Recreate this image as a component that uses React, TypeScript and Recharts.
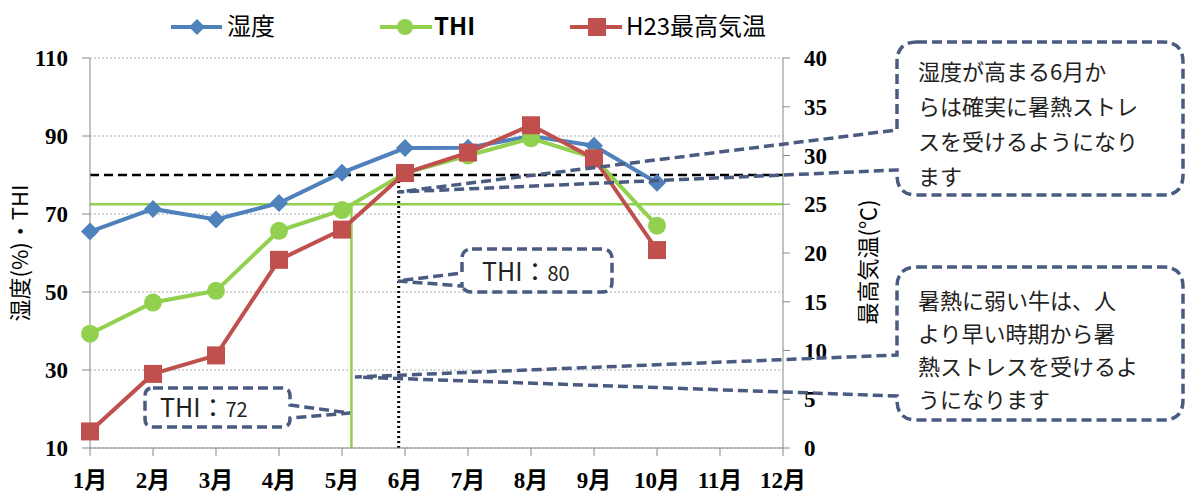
import { LineChart, Line, XAxis, YAxis, CartesianGrid, ReferenceLine } from 'recharts';

// values
const months = [1, 2, 3, 4, 5, 6, 7, 8, 9, 10, 11, 12];
const monthLabels = ['1月', '2月', '3月', '4月', '5月', '6月', '7月', '8月', '9月', '10月', '11月', '12月'];
const humidity = [65.5, 71.3, 68.6, 72.8, 80.6, 86.9, 87, 90, 87.5, 78, null, null];
const thi = [39.3, 47.3, 50.3, 65.7, 71, 80.5, 85, 89.4, 84.4, 67, null, null];
const maxTemp = [1.7, 7.6, 9.5, 19.3, 22.4, 28.2, 30.3, 33.1, 29.7, 20.3, null, null];
const leftTicks = [10, 30, 50, 70, 90, 110];
const rightTicks = [0, 5, 10, 15, 20, 25, 30, 35, 40];
const thiLow = 72.5;
const thiHigh = 80;
const crossMonths = [5.15, 5.9];

const data = months.map((m, i) => ({ month: m, humidity: humidity[i], thi: thi[i], temp: maxTemp[i] }));

const BLUE = '#4f81bd';
const GREEN = '#92d050';
const RED = '#c0504d';
const BOX = '#4a5b82';

const tickFont = { fontFamily: '"Liberation Serif", "Noto Sans CJK JP", serif', fontWeight: 'bold', fontSize: 23, fill: '#000' };
const jpFont = '"Noto Sans CJK JP", sans-serif';

const Diamond = (props: any) => {
  const { cx, cy } = props;
  if (cx == null || cy == null || props.value == null) return <g key={props.key} />;
  return <path key={props.key} d={`M${cx},${cy - 9} L${cx + 9},${cy} L${cx},${cy + 9} L${cx - 9},${cy} Z`} fill={BLUE} />;
};
const Circle = (props: any) => {
  const { cx, cy } = props;
  if (cx == null || cy == null || props.value == null) return <g key={props.key} />;
  return <circle key={props.key} cx={cx} cy={cy} r={9} fill={GREEN} />;
};
const Square = (props: any) => {
  const { cx, cy } = props;
  if (cx == null || cy == null || props.value == null) return <g key={props.key} />;
  return <rect key={props.key} x={cx - 9} y={cy - 9} width={18} height={18} fill={RED} />;
};

// rounded callout box with a thin pointer
function calloutPath(x: number, y: number, w: number, h: number, r: number, side: string, a: number, b: number, tx: number, ty: number) {
  if (side === 'left') {
    return `M${x + r},${y} H${x + w - r} Q${x + w},${y} ${x + w},${y + r} V${y + h - r} Q${x + w},${y + h} ${x + w - r},${y + h} H${x + r} Q${x},${y + h} ${x},${y + h - r} V${b} L${tx},${ty} L${x},${a} V${y + r} Q${x},${y} ${x + r},${y} Z`;
  }
  return `M${x + r},${y} H${x + w - r} Q${x + w},${y} ${x + w},${y + r} V${a} L${tx},${ty} L${x + w},${b} V${y + h - r} Q${x + w},${y + h} ${x + w - r},${y + h} H${x + r} Q${x},${y + h} ${x},${y + h - r} V${y + r} Q${x},${y} ${x + r},${y} Z`;
}

const callouts = [
  { x: 897, y: 42, w: 286, h: 153, r: 20, side: 'left', a: 130, b: 170, tx: 398, ty: 192 },
  { x: 897, y: 267, w: 286, h: 153, r: 20, side: 'left', a: 355, b: 396, tx: 355, ty: 377 },
  { x: 145, y: 388, w: 145, h: 39, r: 8, side: 'right', a: 405, b: 418, tx: 350, ty: 413 },
  { x: 462, y: 249, w: 150, h: 43, r: 10, side: 'left', a: 273, b: 286, tx: 398, ty: 281 },
];

const note1 = ['湿度が高まる6月か', 'らは確実に暑熱ストレ', 'スを受けるようになり', 'ます'];
const note2 = ['暑熱に弱い牛は、人', 'より早い時期から暑', '熱ストレスを受けるよ', 'うになります'];

export default function App() {
  return (
    <div style={{ position: 'absolute', left: 0, top: 0, width: 1186, height: 497, background: '#fff' }}>
      <LineChart width={1186} height={497} data={data} margin={{ top: 58, right: 0, bottom: 0, left: 0 }}>
        <CartesianGrid yAxisId="left" horizontal vertical={false} stroke="#aaa" strokeDasharray="2 2" />
        <XAxis
          dataKey="month"
          type="number"
          domain={[1, 12]}
          ticks={months}
          tickFormatter={(v: number) => monthLabels[v - 1]}
          height={49}
          stroke="#888"
          tickSize={8}
          tickMargin={16}
          tick={tickFont}
        />
        <YAxis
          yAxisId="left"
          domain={[10, 110]}
          ticks={leftTicks}
          width={90}
          stroke="#888"
          tickSize={8}
          tickMargin={14}
          tick={tickFont}
        />
        <YAxis
          yAxisId="right"
          orientation="right"
          domain={[0, 40]}
          ticks={rightTicks}
          width={403}
          stroke="#888"
          tickSize={7}
          tickMargin={14}
          tick={{ ...tickFont, textAnchor: 'start' }}
        />
        <ReferenceLine yAxisId="left" y={thiLow} stroke={GREEN} strokeWidth={2.5} />
        <ReferenceLine yAxisId="left" y={thiHigh} stroke="#000" strokeWidth={2.5} strokeDasharray="9 5" />
        <ReferenceLine
          yAxisId="left"
          segment={[{ x: crossMonths[0], y: 10 }, { x: crossMonths[0], y: thiLow }]}
          stroke={GREEN}
          strokeWidth={2.5}
        />
        <ReferenceLine
          yAxisId="left"
          segment={[{ x: crossMonths[1], y: 10 }, { x: crossMonths[1], y: thiHigh }]}
          stroke="#000"
          strokeWidth={3}
          strokeDasharray="2 3"
        />
        <Line yAxisId="left" dataKey="humidity" stroke={BLUE} strokeWidth={4} dot={Diamond} activeDot={false} isAnimationActive={false} />
        <Line yAxisId="left" dataKey="thi" stroke={GREEN} strokeWidth={4} dot={Circle} activeDot={false} isAnimationActive={false} />
        <Line yAxisId="right" dataKey="temp" stroke={RED} strokeWidth={4} dot={Square} activeDot={false} isAnimationActive={false} />
      </LineChart>

      <svg width={1186} height={497} style={{ position: 'absolute', left: 0, top: 0, pointerEvents: 'none' }}>
        {/* legend */}
        <g fontFamily={jpFont} fontSize={24} fill="#000">
          <line x1={171} y1={27} x2={222} y2={27} stroke={BLUE} strokeWidth={4} />
          <path d="M197,19 L205,27 L197,35 L189,27 Z" fill={BLUE} />
          <text x={227} y={35}>湿度</text>
          <line x1={380} y1={27} x2={432} y2={27} stroke={GREEN} strokeWidth={4} />
          <circle cx={405} cy={27} r={8} fill={GREEN} />
          <text x={434} y={35} fontWeight="bold">THI</text>
          <line x1={570} y1={27} x2={622} y2={27} stroke={RED} strokeWidth={4} />
          <rect x={588} y={18} width={18} height={18} fill={RED} />
          <text x={626} y={35}>H23最高気温</text>
        </g>

        {/* axis titles */}
        <text x={0} y={0} transform="translate(28,253) rotate(-90)" textAnchor="middle" fontFamily={jpFont} fontSize={22} fill="#000">
          湿度(%)・THI
        </text>
        <text x={0} y={0} transform="translate(876,262) rotate(-90)" textAnchor="middle" fontFamily={jpFont} fontSize={22} fill="#000">
          最高気温(℃)
        </text>

        {/* callouts */}
        {callouts.map((c, i) => (
          <g key={i}>
            <rect x={c.x} y={c.y} width={c.w} height={c.h} rx={c.r} fill="#fff" />
            <path
              d={calloutPath(c.x, c.y, c.w, c.h, c.r, c.side, c.a, c.b, c.tx, c.ty)}
              fill="none"
              stroke={BOX}
              strokeWidth={3.5}
              strokeDasharray="10 5"
            />
          </g>
        ))}
        <g fontFamily={jpFont} fontSize={22} fill="#222">
          {note1.map((t, i) => (
            <text key={t} x={918} y={80 + i * 35}>{t}</text>
          ))}
          {note2.map((t, i) => (
            <text key={t} x={918} y={309 + i * 33}>{t}</text>
          ))}
        </g>
        <g fontFamily={jpFont} fill="#222">
          <text x={160} y={417} fontSize={25}>
            THI：<tspan fontSize={20}>72</tspan>
          </text>
          <text x={482} y={281} fontSize={25}>
            THI：<tspan fontSize={20}>80</tspan>
          </text>
        </g>
      </svg>
    </div>
  );
}
